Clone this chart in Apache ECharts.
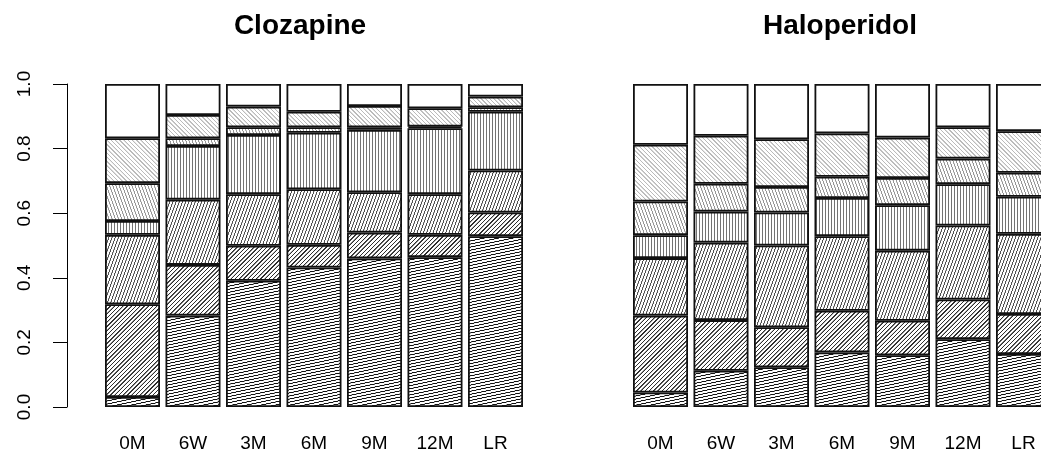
<!DOCTYPE html>
<html>
<head>
<meta charset="utf-8">
<script src="https://cdn.jsdelivr.net/npm/echarts@6/dist/echarts.min.js"></script>
<style>
  html, body { margin: 0; padding: 0; background: #fff; }
  #chart { width: 1041px; height: 467px; }
</style>
</head>
<body>
<div id="chart"></div>
<script>
// Visit labels along the x axis
const timepoints = ['0M', '6W', '3M', '6M', '9M', '12M', 'LR'];
const yTickValues = [0, 0.2, 0.4, 0.6, 0.8, 1.0];

// Clozapine: share of patients in each level (level 1 at the bottom of each bar)
const clozLevel1 = [0.031, 0.283, 0.391, 0.432, 0.460, 0.464, 0.529];
const clozLevel2 = [0.287, 0.157, 0.108, 0.070, 0.080, 0.069, 0.073];
const clozLevel3 = [0.215, 0.202, 0.160, 0.172, 0.125, 0.126, 0.130];
const clozLevel4 = [0.043, 0.166, 0.183, 0.175, 0.193, 0.204, 0.182];
const clozLevel5 = [0.117, 0.024, 0.024, 0.017, 0.008, 0.005, 0.014];
const clozLevel6 = [0.139, 0.072, 0.064, 0.048, 0.066, 0.057, 0.033];
const clozLevel7 = [0.168, 0.096, 0.070, 0.086, 0.068, 0.075, 0.039];

// Haloperidol: share of patients in each level
const haloLevel1 = [0.045, 0.112, 0.123, 0.169, 0.160, 0.210, 0.164];
const haloLevel2 = [0.238, 0.157, 0.124, 0.129, 0.107, 0.123, 0.124];
const haloLevel3 = [0.178, 0.240, 0.253, 0.231, 0.217, 0.229, 0.248];
const haloLevel4 = [0.071, 0.096, 0.102, 0.118, 0.141, 0.128, 0.115];
const haloLevel5 = [0.104, 0.086, 0.079, 0.066, 0.084, 0.079, 0.074];
const haloLevel6 = [0.176, 0.149, 0.148, 0.134, 0.125, 0.097, 0.129];
const haloLevel7 = [0.188, 0.160, 0.171, 0.153, 0.166, 0.134, 0.146];

const clozLevels = [clozLevel1, clozLevel2, clozLevel3, clozLevel4, clozLevel5, clozLevel6, clozLevel7];
const haloLevels = [haloLevel1, haloLevel2, haloLevel3, haloLevel4, haloLevel5, haloLevel6, haloLevel7];

// Hatching per level: line angle (degrees) and line colour; the top level is left blank
const hatchAngles = [12, 45, 70, 90, 110, 135];
const hatchColors = ['#111111', '#2e2e2e', '#505050', '#737373', '#969696', '#bababa'];

const FONT = 'Liberation Sans, Arial, Helvetica, sans-serif';

// Builds a repeating line-hatch fill: horizontal stripes in a tile, rotated by the pattern transform
function hatch(lineColor, angleDeg) {
  const k = 4;               // supersampling factor of the tile
  const spacing = 3;         // px between hatch lines
  const c = document.createElement('canvas');
  c.width = 4 * k;
  c.height = spacing * k;
  const g = c.getContext('2d');
  g.fillStyle = '#ffffff';
  g.fillRect(0, 0, c.width, c.height);
  g.fillStyle = lineColor;
  g.fillRect(0, 0, c.width, Math.round(1.1 * k));
  return {
    image: c,
    repeat: 'repeat',
    rotation: -angleDeg * Math.PI / 180,
    scaleX: 1 / k,
    scaleY: 1 / k
  };
}

function levelSeries(levels, panel) {
  return levels.map(function (values, i) {
    return {
      type: 'bar',
      xAxisIndex: panel,
      yAxisIndex: panel,
      stack: 'panel' + panel,
      data: values,
      barWidth: 55,
      silent: true,
      animation: false,
      emphasis: { disabled: true },
      itemStyle: {
        color: i < hatchAngles.length ? hatch(hatchColors[i], hatchAngles[i]) : '#ffffff',
        borderColor: '#111111',
        borderWidth: 1.8
      }
    };
  });
}

const chart = echarts.init(document.getElementById('chart'), null, { renderer: 'canvas' });

const xAxisCommon = {
  type: 'category',
  data: timepoints,
  axisLine: { show: false },
  axisTick: { show: false },
  splitLine: { show: false },
  axisLabel: { color: '#000', fontSize: 19, fontFamily: FONT, margin: 27 }
};

chart.setOption({
  backgroundColor: '#ffffff',
  animation: false,
  title: [
    { text: 'Clozapine', left: 300, top: 12, textAlign: 'center', padding: 0,
      textStyle: { fontSize: 28, fontWeight: 'bold', color: '#000', fontFamily: FONT } },
    { text: 'Haloperidol', left: 840, top: 12, textAlign: 'center', padding: 0,
      textStyle: { fontSize: 28, fontWeight: 'bold', color: '#000', fontFamily: FONT } }
  ],
  grid: [
    { left: 102.25, top: 84, width: 423.5, height: 323, outerBoundsMode: 'none', containLabel: false },
    { left: 630.25, top: 84, width: 423.5, height: 323, outerBoundsMode: 'none', containLabel: false }
  ],
  xAxis: [
    Object.assign({ gridIndex: 0 }, xAxisCommon),
    Object.assign({ gridIndex: 1 }, xAxisCommon)
  ],
  yAxis: [
    {
      gridIndex: 0,
      type: 'value',
      min: yTickValues[0],
      max: yTickValues[yTickValues.length - 1],
      interval: 0.2,
      offset: 35.25,
      axisLine: { show: true, lineStyle: { color: '#000', width: 1 } },
      axisTick: { show: true, length: 14, lineStyle: { color: '#000', width: 1 } },
      splitLine: { show: false },
      axisLabel: {
        rotate: 90,
        margin: 33,
        color: '#000',
        fontSize: 19,
        fontFamily: FONT,
        formatter: function (v) { return v.toFixed(1); }
      }
    },
    { gridIndex: 1, type: 'value', min: 0, max: 1, show: false }
  ],
  series: levelSeries(clozLevels, 0).concat(levelSeries(haloLevels, 1))
});
</script>
</body>
</html>
